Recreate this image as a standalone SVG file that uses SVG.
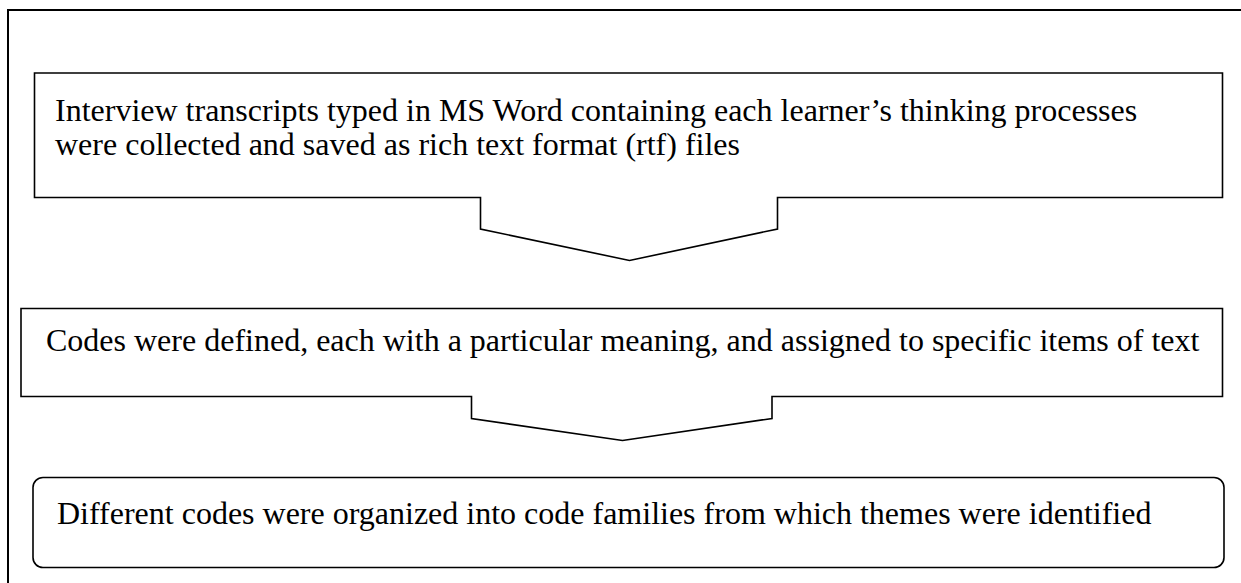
<svg xmlns="http://www.w3.org/2000/svg" width="1241" height="583" viewBox="0 0 1241 583">
  <style>
    .frame { fill: none; stroke: #000; stroke-width: 2; }
    .box { fill: #fff; stroke: #000; stroke-width: 1.6; stroke-linejoin: miter; }
    .label { font-family: "Liberation Serif", "Times New Roman", serif; font-size: 32px; fill: #000; }
  </style>
  <rect x="0" y="0" width="1241" height="583" fill="#fff"/>
  <!-- page frame: left and top edges only -->
  <path class="frame" d="M8,583 V10 H1241"/>

  <!-- step boxes, each outline runs straight into its downward chevron -->
  <g id="step1">
    <path class="box" d="M34.5,73 H1222.5 V197.5 H777.5 V229 L629.5,260.5 L480.5,229 V197.5 H34.5 Z"/>
    <text class="label" x="55" y="121">Interview transcripts typed in MS Word containing each learner’s thinking processes</text>
    <text class="label" x="55" y="155">were collected and saved as rich text format (rtf) files</text>
  </g>
  <g id="step2">
    <path class="box" d="M21,308.5 H1222.5 V396.5 H772 V418.5 L622.5,440.5 L471.5,418.5 V396.5 H21 Z"/>
    <text class="label" x="46" y="351">Codes were defined, each with a particular meaning, and assigned to specific items of text</text>
  </g>
  <g id="step3">
    <rect class="box" x="33" y="477.5" width="1191" height="90" rx="10" ry="10"/>
    <text class="label" x="57" y="524">Different codes were organized into code families from which themes were identified</text>
  </g>

  <!-- the chevrons are part of the box outlines above -->
  <g id="connectors"></g>
</svg>
